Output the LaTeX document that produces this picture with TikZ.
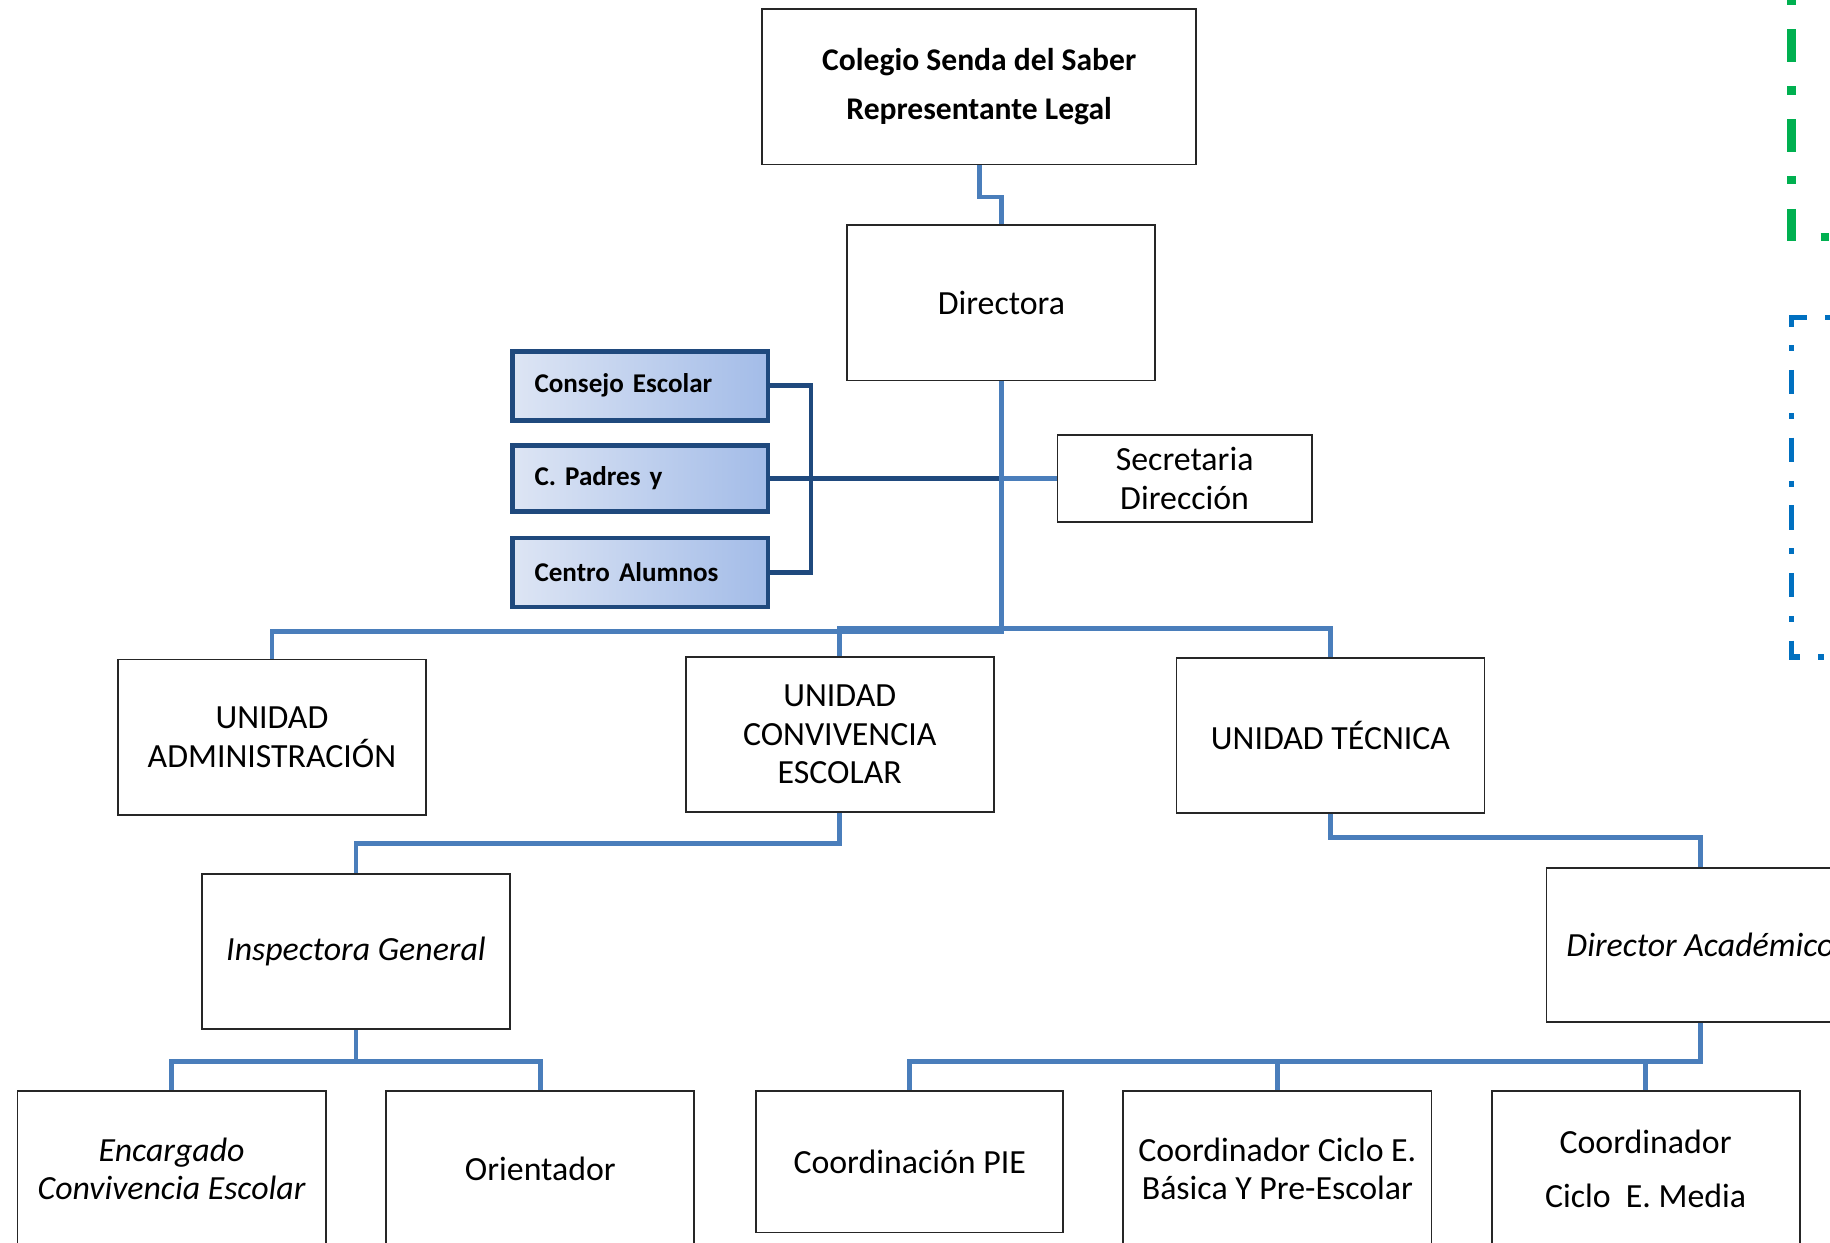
\documentclass[tikz,border=0pt]{standalone}
\usepackage{fontspec}
\setmainfont{Carlito}
\definecolor{linea}{HTML}{4A7EBB}
\definecolor{azuloscuro}{HTML}{1F497D}
\definecolor{celesteA}{RGB}{221,229,244}
\definecolor{celesteB}{RGB}{163,188,232}
\definecolor{verdeborde}{HTML}{00B050}
\definecolor{azulborde}{HTML}{0070C0}
\newcommand{\textoapoyo}{\bfseries\fontsize{13.2}{15}\selectfont\spaceskip=0.2em\relax}

\begin{document}
\begin{tikzpicture}[x=0.02cm,y=-0.02cm]
	\tikzstyle{every node}=[font=\fontsize{16.5}{18.8}\selectfont,align=center]
	\tikzstyle{caja}=[draw=black!85,line width=0.9pt,fill=white,minimum width=5.28cm,
	minimum height=2.66cm,inner sep=0pt]
	\tikzstyle{cursiva}=[font=\fontsize{16.5}{18.8}\selectfont\itshape]
	\tikzstyle{apoyo}=[draw=azuloscuro,line width=2.3pt,left color=celesteA,right color=celesteB,
	minimum height=1.18cm,text width=3.62cm,inner xsep=0.38cm,align=left,font=\textoapoyo]
	\tikzstyle{rama}=[draw=linea,line width=2.3pt]
	\tikzstyle{ramaoscura}=[draw=azuloscuro,line width=2.3pt]
	\useasboundingbox (0,0) rectangle (1568,1065);
	\clip (0,0) rectangle (1568,1065);
	\node[caja,minimum width=7.44cm,font=\bfseries\fontsize{15.4}{23.9}\selectfont] (colegio) at (839,74.5)
	{Colegio Senda del Saber\\Representante Legal};
	\node[caja] (directora) at (858,259.5) {Directora};
	\node[caja,minimum width=4.36cm,minimum height=1.48cm] (secretaria) at (1015,410)
	{Secretaria\\Dirección};
	\node[apoyo] (consejo) at (548.5,330.5) {Consejo Escolar};
	\node[apoyo,minimum height=1.12cm] (padres) at (548.5,410) {C. Padres y};
	\node[apoyo] (alumnos) at (548.5,490.5) {Centro Alumnos};
	\node[caja] (administracion) at (233,631.5) {UNIDAD\\ADMINISTRACIÓN};
	\node[caja] (convivencia) at (719.5,629.5) {UNIDAD\\CONVIVENCIA\\ESCOLAR};
	\node[caja] (tecnica) at (1140,630) {UNIDAD TÉCNICA};
	\node[caja,cursiva] (inspectora) at (305,815.5) {Inspectora General};
	\node[caja,cursiva,minimum height=2.64cm] (academico) at (1457,810) {Director Académico};
	\node[caja,cursiva] (encargado) at (147,1001.5) {Encargado\\Convivencia Escolar};
	\node[caja] (orientador) at (463,1001.5) {Orientador};
	\node[caja,minimum width=5.26cm,minimum height=2.42cm] (pie) at (779.5,995.5) {Coordinación PIE};
	\node[caja] (basica) at (1094.5,1001.5) {Coordinador Ciclo E.\\Básica Y Pre-Escolar};
	\node[caja,font=\fontsize{16.5}{26}\selectfont] (media) at (1410,1001.5)
	{Coordinador\\Ciclo\ \ E. Media};
	
	\draw[rama] (colegio.south) -- ++(0,27) -| (directora.north);
	\draw[rama] (secretaria.west) -- (directora.south |- secretaria.west);
	\draw[ramaoscura] (padres.east) -- (directora.south |- padres.east);
	\draw[ramaoscura] (consejo.east) -- ++(35,0) |- (alumnos.east);
	\draw[rama] (directora.south) -- ++(0,214) -| (administracion.north);
	\draw[rama] (directora.south) -- ++(0,212) -| (convivencia.north);
	\draw[rama] (directora.south) -- ++(0,212) -| (tecnica.north);
	\draw[rama] (convivencia.south) -- ++(0,26) -| (inspectora.north);
	\draw[rama] (inspectora.south) -- ++(0,27) -| (encargado.north);
	\draw[rama] (inspectora.south) -- ++(0,27) -| (orientador.north);
	\draw[rama] (tecnica.south) -- ++(0,20) -| (academico.north);
	\draw[rama] (academico.south) -- ++(0,33) -| (pie.north);
	\draw[rama] (academico.south) -- ++(0,33) -| (basica.north);
	\draw[rama] (academico.south) -- ++(0,33) -| (media.north);
	
	\draw[verdeborde,line width=0.14cm,dash pattern=on 0.56cm off 0.42cm on 0.14cm off 0.42cm]
	(1535,-52) -- (1535,203) -- (1620,203);
	\draw[azulborde,line width=0.1cm,dash pattern=on 0.42cm off 0.32cm on 0.1cm off 0.32cm,dash phase=0.12cm]
	(1600,272) -- (1535,272) -- (1535,563) -- (1620,563);
\end{tikzpicture}
\end{document}
